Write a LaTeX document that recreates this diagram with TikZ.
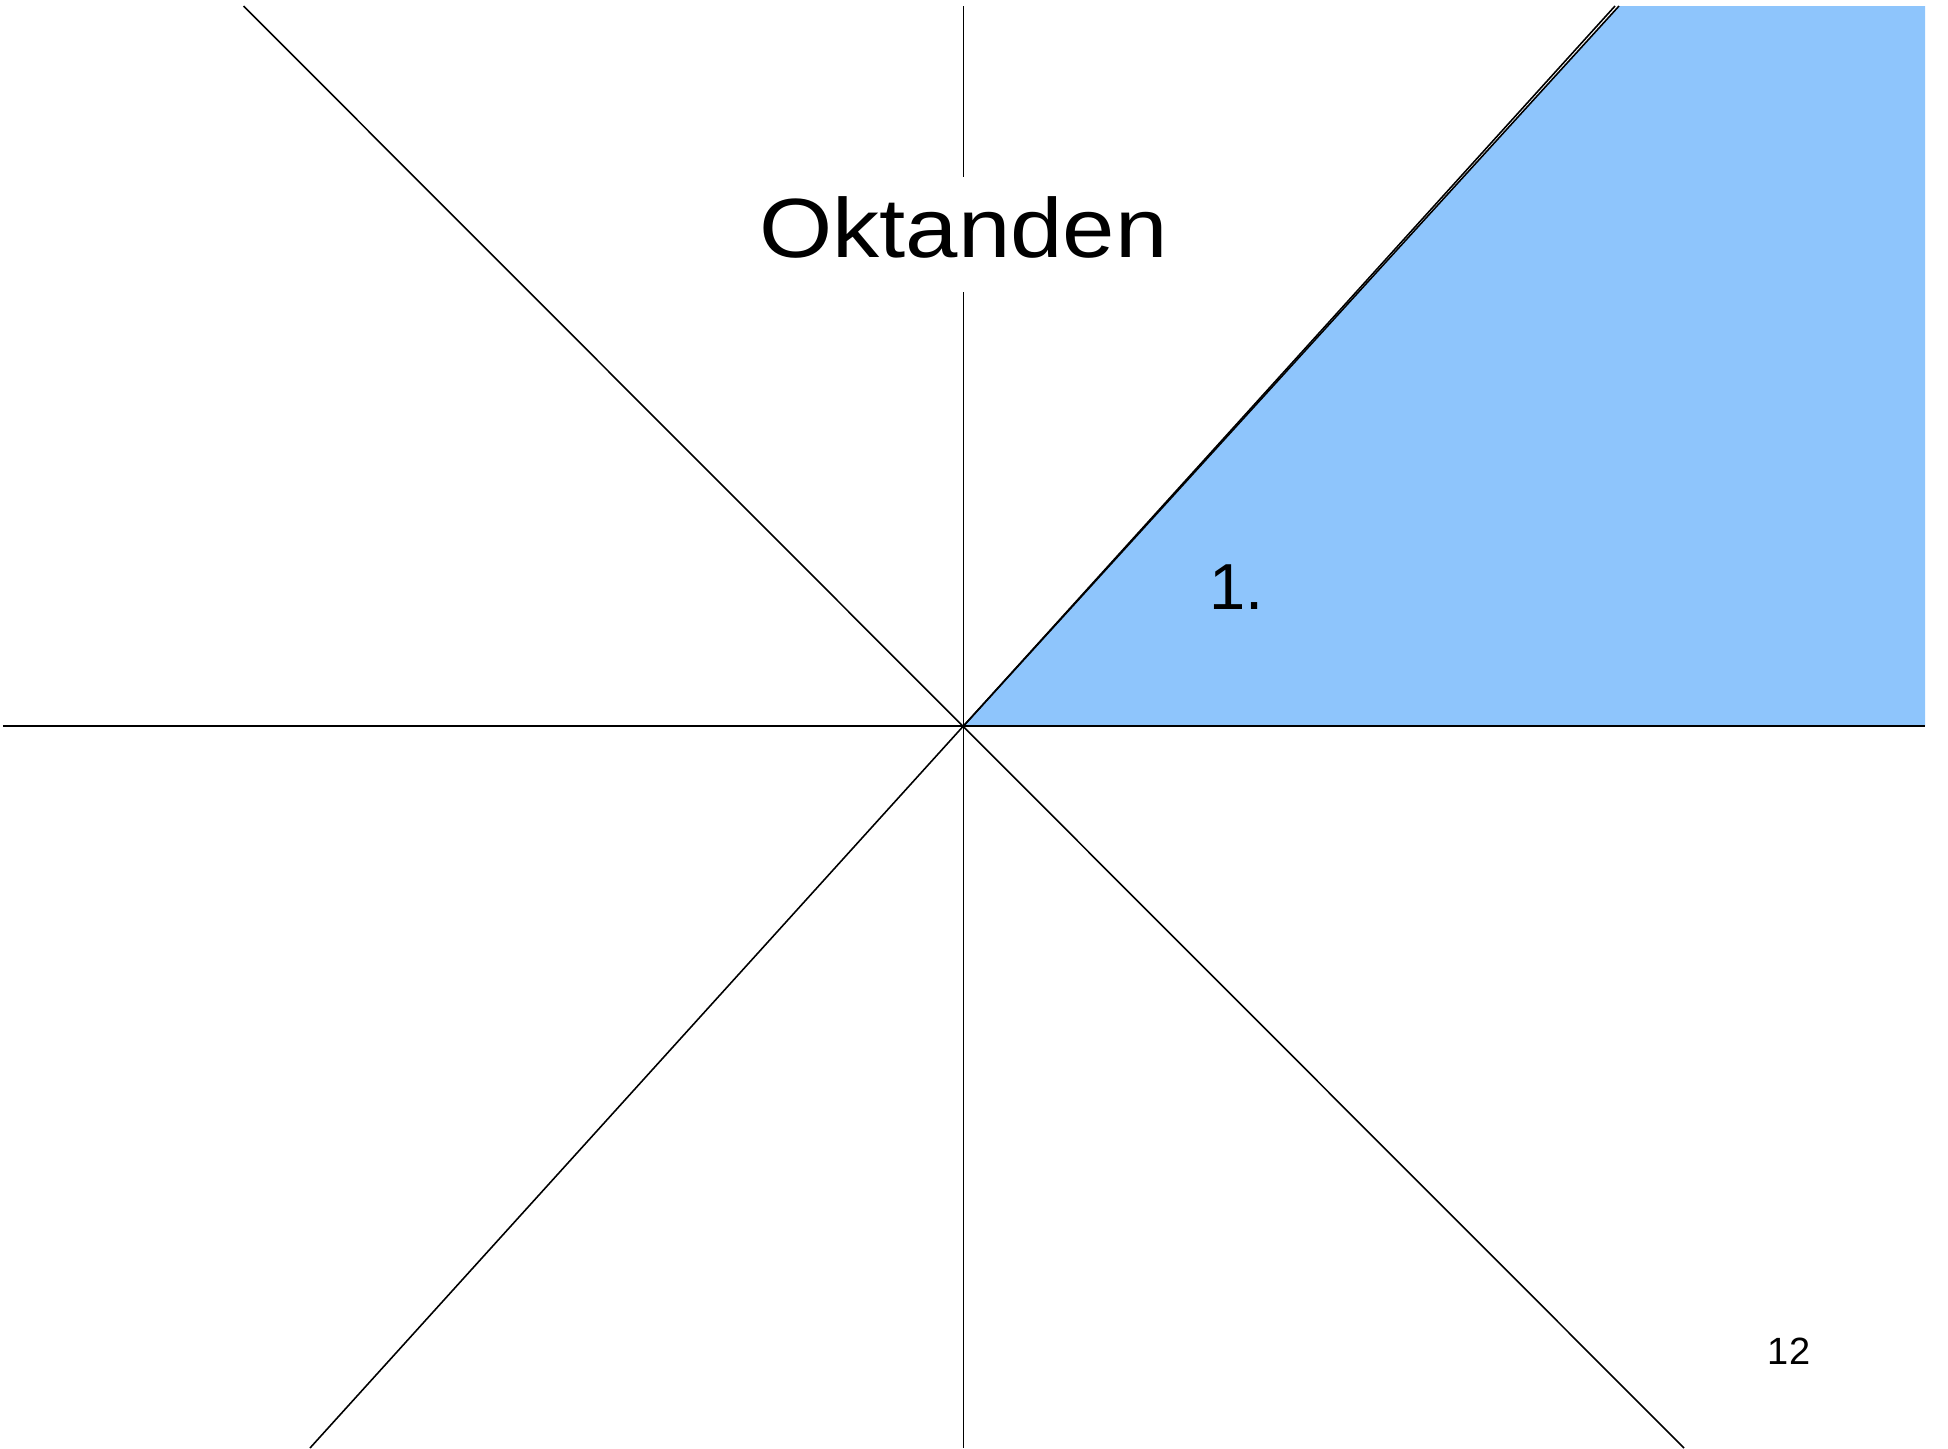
\documentclass[tikz,border=0pt]{standalone}
\usepackage{fontspec}
\setmainfont{Liberation Sans}
\newfontfamily\titlefont[FakeStretch=1.12]{Liberation Sans}
\usepackage{xcolor}
\usetikzlibrary{calc,positioning}
\definecolor{octblue}{RGB}{142,197,252}
\tikzset{
	axis/.style={line width=0.45pt, black},
	titlebox/.style={fill=white, inner sep=0pt, text height=0.80cm, text depth=0.35cm, anchor=base, font=\titlefont\fontsize{23.9}{28}\selectfont},
	octlabel/.style={inner sep=0pt, anchor=base west, font=\fontsize{18.5}{22}\selectfont},
	pagenum/.style={inner sep=0pt, anchor=base, font=\fontsize{10.8}{13}\selectfont}
}
\begin{document}
\begin{tikzpicture}[x=0.01cm, y=-0.01cm]
		\useasboundingbox (0,0) rectangle (1948,1448);
		\coordinate (O) at (963.5,726);
		\coordinate (L) at (3,726);
		\coordinate (R) at (1925,726);
		\coordinate (T) at (963.5,6);
		\coordinate (B) at (963.5,1448);
		\coordinate (TL) at (243.5,6);
		\coordinate (BR) at (1684,1448);
		\coordinate (TR) at (1615,6);
		\coordinate (BL) at (310,1448);
		\coordinate (E) at (1619,6);
		\coordinate (RT) at (1925,6);
		% erster Oktand
		\fill[octblue] (O)--(E)--(RT)--(R)--cycle;
		\draw[axis] (O)--(E);
		\draw[axis] (L)--(R);
		\draw[axis] (T)--(B);
		\draw[axis] (TL)--(BR);
		\draw[axis] (TR)--(BL);
		\node[titlebox] (title) at (963.5,257) {Oktanden};
		\node[octlabel] (first) at (1209,609) {1.};
		\node[pagenum] (page) at (1789,1364) {12};
	\end{tikzpicture}
\end{document}
